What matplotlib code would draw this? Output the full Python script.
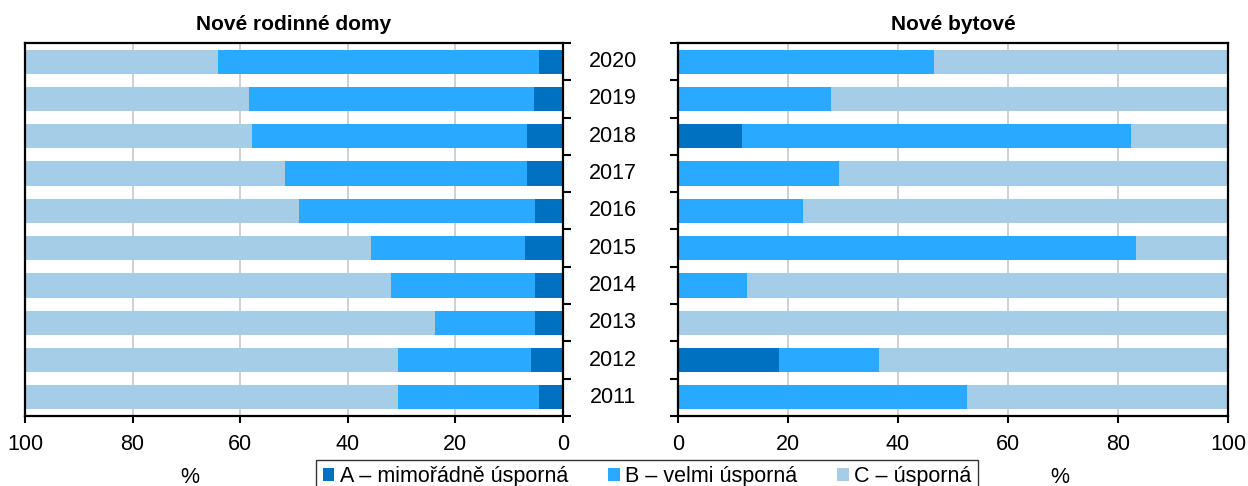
import numpy as np
import matplotlib.pyplot as plt
import matplotlib.transforms as mtransforms
from matplotlib.patches import Patch

plt.rcParams['font.family'] = ['Liberation Sans', 'DejaVu Sans']


# DATA (2011 -> 2020, %)

ROKY = [2011, 2012, 2013, 2014, 2015, 2016, 2017, 2018, 2019, 2020]

rd_a = [4.4, 5.9, 5.2, 5.2, 7.0, 5.2, 6.7, 6.6, 5.3, 4.5]
rd_b = [26.3, 24.8, 18.5, 26.8, 28.7, 43.8, 44.9, 51.2, 53.0, 59.7]
rd_c = [69.3, 69.3, 76.3, 68.0, 64.3, 51.0, 48.4, 42.2, 41.7, 35.8]

by_a = [0, 18.3, 0, 0, 0, 0, 0, 11.7, 0, 0]
by_b = [52.5, 18.2, 0, 12.5, 83.3, 22.7, 29.2, 70.7, 27.8, 46.6]
by_c = [47.5, 63.5, 100, 87.5, 16.7, 77.3, 70.8, 17.6, 72.2, 53.4]

TITULY = ['Nové rodinné domy', 'Nové bytové']
LEGENDA = ['A – mimořádně úsporná', 'B – velmi úsporná', 'C – úsporná']
BARVY = ['#0070c0', '#29a9ff', '#a6cde7']


# FIGURE

fig = plt.figure(figsize=(12.48, 4.86), dpi=100)
ax_l = fig.add_axes([25 / 1248, 1 - 416 / 486, 538 / 1248, 373 / 486])
ax_r = fig.add_axes([678 / 1248, 1 - 416 / 486, 550 / 1248, 373 / 486])

y = np.arange(len(ROKY))
hranice = np.arange(-0.5, len(ROKY), 1.0)


def kresli(ax, a, b, c, titul, strana):
    a = np.array(a, dtype=float)
    b = np.array(b, dtype=float)
    c = np.array(c, dtype=float)
    for vals, left, barva in [(a, 0, BARVY[0]), (b, a, BARVY[1]), (c, a + b, BARVY[2])]:
        ax.barh(y, vals, left=left, height=0.65, color=barva, edgecolor='none', zorder=2)

    ax.set_ylim(-0.5, len(ROKY) - 0.5)
    ax.set_xticks([0, 20, 40, 60, 80, 100])
    ax.grid(axis='x', color='#c8c8c8', linewidth=1.2, zorder=0)
    ax.set_axisbelow(True)
    for s in ax.spines.values():
        s.set_linewidth(1.6)
        s.set_color('black')

    ax.set_yticks(hranice)
    ax.set_yticklabels([])
    ax.tick_params(axis='y', direction='out', length=6, width=1.5,
                   left=(strana == 'left'), right=(strana == 'right'))
    ax.tick_params(axis='x', direction='out', length=5, width=1.5,
                   labelsize=15.5, pad=8)
    ax.set_title(titul, fontsize=15, fontweight='bold', pad=9)


kresli(ax_l, rd_a, rd_b, rd_c, TITULY[0], 'right')
ax_l.set_xlim(100, 0)
kresli(ax_r, by_a, by_b, by_c, TITULY[1], 'left')
ax_r.set_xlim(0, 100)

# roky mezi grafy
tr = mtransforms.blended_transform_factory(fig.transFigure, ax_l.transData)
for pos, rok in zip(y, ROKY):
    fig.text(613 / 1248, pos, str(rok), transform=tr, ha='center', va='center',
             fontsize=15.5)

fig.text(190 / 1248, 1 - 477 / 486, '%', ha='center', va='center', fontsize=15.5)
fig.text(1060 / 1248, 1 - 477 / 486, '%', ha='center', va='center', fontsize=15.5)

handles = [Patch(facecolor=c, edgecolor='none') for c in BARVY]
leg = fig.legend(handles, LEGENDA, loc='upper center',
                 bbox_to_anchor=(647 / 1248, 1 - 460 / 486), ncol=3,
                 fontsize=15.5, frameon=True, fancybox=False, handlelength=0.55,
                 handleheight=0.55, handletextpad=0.25, columnspacing=1.85,
                 borderpad=0.3, borderaxespad=0)
leg.get_frame().set_edgecolor('black')
leg.get_frame().set_linewidth(1.0)

fig.savefig('out.png', dpi=100)
